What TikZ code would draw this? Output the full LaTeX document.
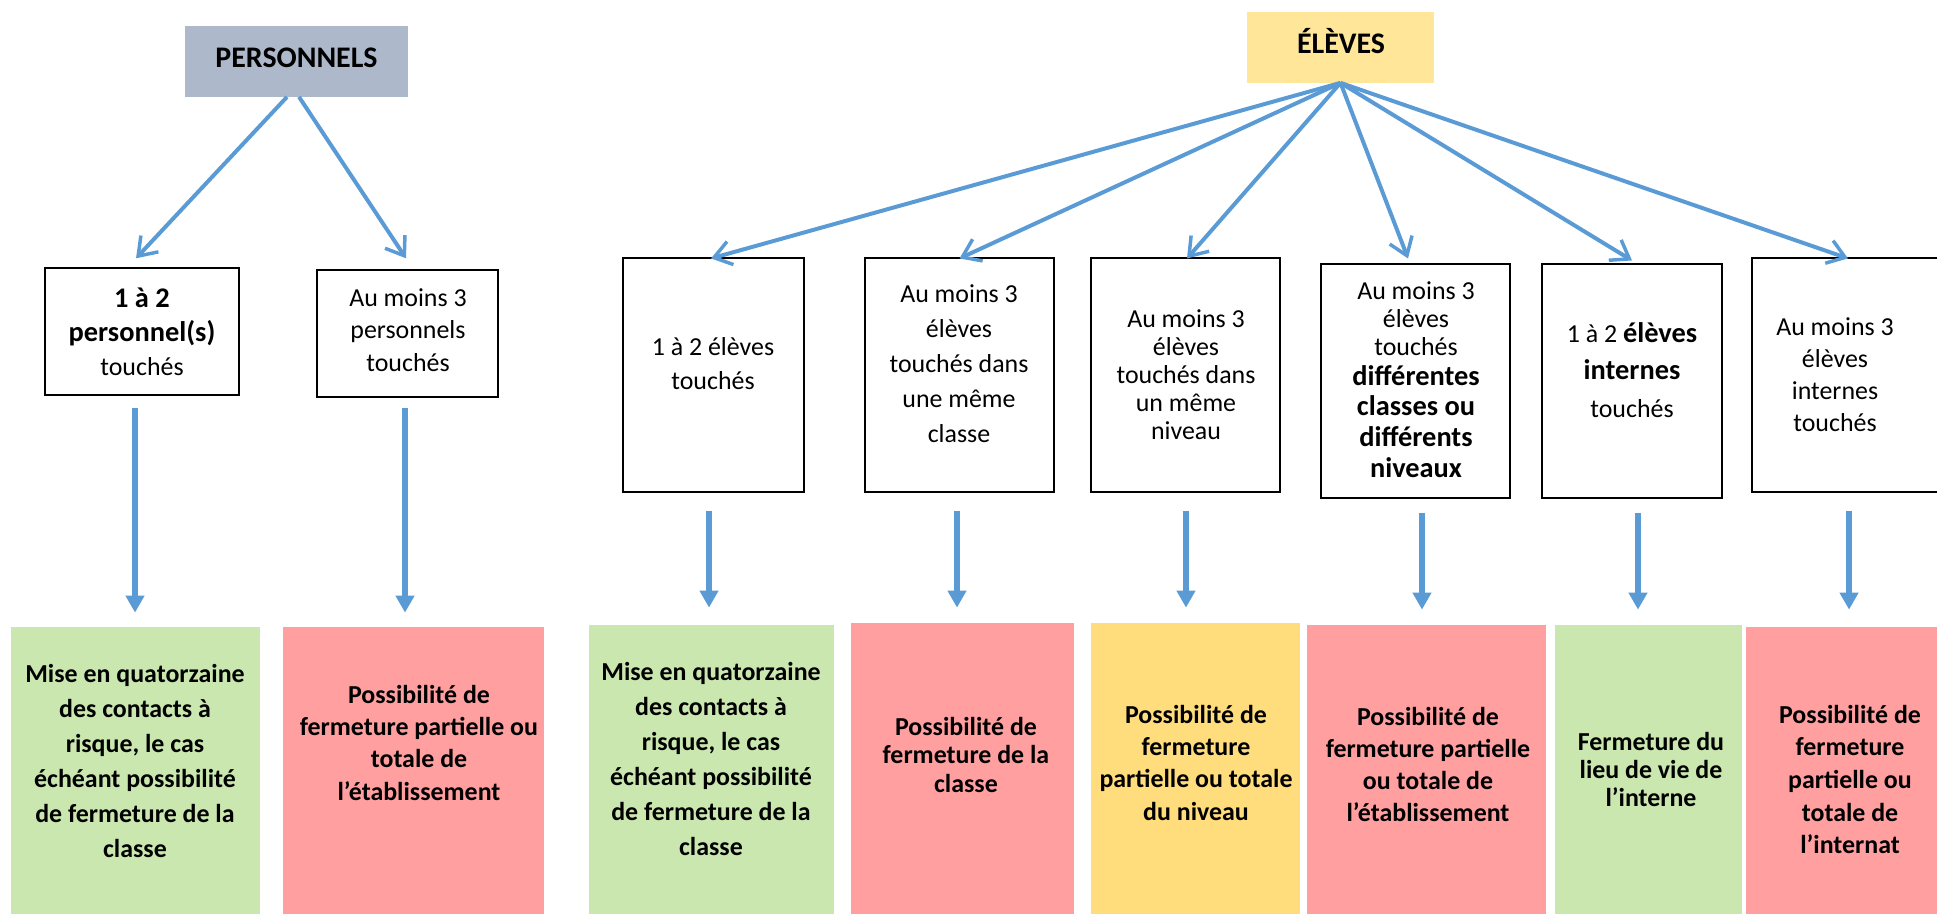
\documentclass[tikz,border=0pt]{standalone}
\usepackage{fontspec}
\setmainfont{Carlito}
\usetikzlibrary{arrows.meta}
\definecolor{abl}{HTML}{5B9BD5}
\definecolor{hgray}{HTML}{ADB9CA}
\definecolor{hyel}{HTML}{FFE699}
\definecolor{cgreen}{HTML}{C9E7AE}
\definecolor{cred}{HTML}{FF9F9F}
\definecolor{cyel}{HTML}{FFDC7C}
\newcommand\rg{\fontsize{26}{30}\selectfont}
\newcommand\bb[1]{{\fontsize{28.5}{32}\selectfont\bfseries #1}}
\newcommand\mkbox[6]{\node[#6, minimum width={(#4)-(#2)}, minimum height={(#5)-(#3)}] (#1) at ({((#2)+(#4))/2},{((#3)+(#5))/2}) {};}
\newcommand\mklines[6]{\foreach \mytext [count=\i from 0] in {#6} {\node[#5, anchor=base] (#1-\i) at (#2,{(#3)+(#4)*\i}) {\mytext};}}
\tikzset{
  frame/.style={draw=black, line width=2pt, fill=white, inner sep=0pt, outer sep=0pt},
  openframe/.style={draw=none, inner sep=0pt, outer sep=0pt},
  flat/.style={fill=#1, draw=none, inner sep=0pt, outer sep=0pt},
  tx/.style={inner sep=0pt, font=\rg},
  btx/.style={inner sep=0pt, font={\fontsize{26}{30}\selectfont\bfseries}},
  bbtx/.style={inner sep=0pt, font={\fontsize{28.5}{32}\selectfont\bfseries}},
  htx/.style={inner sep=0pt, font={\fontsize{30}{34}\selectfont\bfseries}},
  darrow/.style={draw=abl, line width=4pt, -{Straight Barb[length=17pt,width=24pt,line width=3.5pt]}},
  varrow/.style={draw=abl, line width=5.5pt, -{Triangle[length=17pt,width=18pt]}}
}
\begin{document}
\begin{tikzpicture}[x=1bp,y=-1bp]
\useasboundingbox (0,0) rectangle (1937,914);
\clip (0,0) rectangle (1937,914);
% header boxes
\mkbox{pers}{185}{26}{408}{97}{flat=hgray}
\mkbox{ele}{1247}{12}{1434}{83}{flat=hyel}
% second level
\mkbox{pb1}{45}{268}{239}{395}{frame}
\mkbox{pb2}{317}{270}{498}{397}{frame}
\mkbox{eb1}{623}{258}{804}{492}{frame}
\mkbox{eb2}{865}{258}{1054}{492}{frame}
\mkbox{eb3}{1091}{258}{1280}{492}{frame}
\mkbox{eb4}{1321}{264}{1510}{498}{frame}
\mkbox{eb5}{1542}{264}{1722}{498}{frame}
\mkbox{eb6}{1752}{258}{1966}{492}{openframe}
\draw[line width=2pt] (eb6.north east) -- (eb6.north west) -- (eb6.south west) -- (eb6.south east);
% bottom level
\mkbox{pg1}{11}{626}{260}{920}{flat=cgreen}
\mkbox{pr1}{283}{626}{544}{920}{flat=cred}
\mkbox{eg2}{589}{624}{834}{920}{flat=cgreen}
\mkbox{er2}{851}{622}{1074}{920}{flat=cred}
\mkbox{ey}{1091}{622}{1300}{920}{flat=cyel}
\mkbox{er3}{1307}{624}{1546}{920}{flat=cred}
\mkbox{eg3}{1555}{624}{1742}{920}{flat=cgreen}
\mkbox{er4}{1746}{626}{1955}{920}{flat=cred}
% diagonal arrows
\draw[darrow] ([xshift=-9.5pt]pers.south) -- ([xshift=-6pt,yshift=10pt]pb1.north);
\draw[darrow] ([xshift=2.5pt]pers.south) -- ([xshift=-1.5pt,yshift=12pt]pb2.north);
\draw[darrow] (ele.south) -- ([xshift=-2.5pt]eb1.north);
\draw[darrow] (ele.south) -- (eb2.north);
\draw[darrow] (ele.south) -- ([xshift=1.5pt]eb3.north);
\draw[darrow] (ele.south) -- ([xshift=-7.5pt,yshift=6pt]eb4.north);
\draw[darrow] (ele.south) -- ([yshift=4pt]eb5.north);
\draw[darrow] (ele.south) -- ([xshift=-11pt]eb6.north);
% vertical arrows
\draw[varrow, shorten <=13pt, shorten >=14pt] ([xshift=-7pt]pb1.south) -- ([xshift=-7pt]pb1.south |- pg1.north);
\draw[varrow, shorten <=11pt, shorten >=14pt] ([xshift=-2.5pt]pb2.south) -- ([xshift=-2.5pt]pb2.south |- pr1.north);
\draw[varrow, shorten <=19pt, shorten >=17pt] ([xshift=-4.5pt]eb1.south) -- ([xshift=-4.5pt]eb1.south |- eg2.north);
\draw[varrow, shorten <=19pt, shorten >=15pt] ([xshift=-2.5pt]eb2.south) -- ([xshift=-2.5pt]eb2.south |- er2.north);
\draw[varrow, shorten <=19pt, shorten >=15pt] ([xshift=0.5pt]eb3.south) -- ([xshift=0.5pt]eb3.south |- ey.north);
\draw[varrow, shorten <=15pt, shorten >=15pt] ([xshift=6.5pt]eb4.south) -- ([xshift=6.5pt]eb4.south |- er3.north);
\draw[varrow, shorten <=15pt, shorten >=15pt] ([xshift=6pt]eb5.south) -- ([xshift=6pt]eb5.south |- eg3.north);
\draw[varrow, shorten <=20pt, shorten >=17pt] ([xshift=-10pt]eb6.south) -- ([xshift=-10pt]eb6.south |- er4.north);
% header texts
\node[htx, anchor=base] (perst) at (296.5,67) {PERSONNELS};
\node[htx, anchor=base] (elet) at (1341,53) {ÉLÈVES};
% second level texts
\mklines{pb1t}{142}{307}{34}{tx}{\bb{1 à 2}, \bb{personnel(s)}, touchés}
\mklines{pb2t}{408}{306}{32.5}{tx}{Au moins 3, personnels, touchés}
\mklines{eb1t}{713}{355}{34}{tx}{1 à 2 élèves, touchés}
\mklines{eb2t}{959}{302}{35}{tx}{Au moins 3, élèves, touchés dans, une même, classe}
\mklines{eb3t}{1186}{327}{28}{tx}{Au moins 3, élèves, touchés dans, un même, niveau}
\mklines{eb4t}{1416}{299}{28}{tx}{Au moins 3, élèves, touchés}
\mklines{eb4b}{1416}{385}{30.7}{bbtx}{différentes, classes ou, différents, niveaux}
\mklines{eb5t}{1632}{342}{37.5}{tx}{1 à 2 \bb{élèves}, \bb{internes}, touchés}
\mklines{eb6t}{1835}{335}{32.3}{tx}{Au moins 3, élèves, internes, touchés}
% bottom texts
\mklines{pg1t}{135}{682}{35}{btx}{Mise en quatorzaine, des contacts à, {risque, le cas}, échéant possibilité, de fermeture de la, classe}
\mklines{pr1t}{419}{703}{32.4}{btx}{Possibilité de, fermeture partielle ou, totale de, l’établissement}
\mklines{eg2t}{711}{680}{35}{btx}{Mise en quatorzaine, des contacts à, {risque, le cas}, échéant possibilité, de fermeture de la, classe}
\mklines{er2t}{966}{735}{28.5}{btx}{Possibilité de, fermeture de la, classe}
\mklines{eyt}{1196}{723}{32.4}{btx}{Possibilité de, fermeture, partielle ou totale, du niveau}
\mklines{er3t}{1428}{725}{32.2}{btx}{Possibilité de, fermeture partielle, ou totale de, l’établissement}
\mklines{eg3t}{1651}{750}{28}{btx}{Fermeture du, lieu de vie de, l’interne}
\mklines{er4t}{1850}{723}{32.7}{btx}{Possibilité de, fermeture, partielle ou, totale de, l’internat}
\end{tikzpicture}
\end{document}
